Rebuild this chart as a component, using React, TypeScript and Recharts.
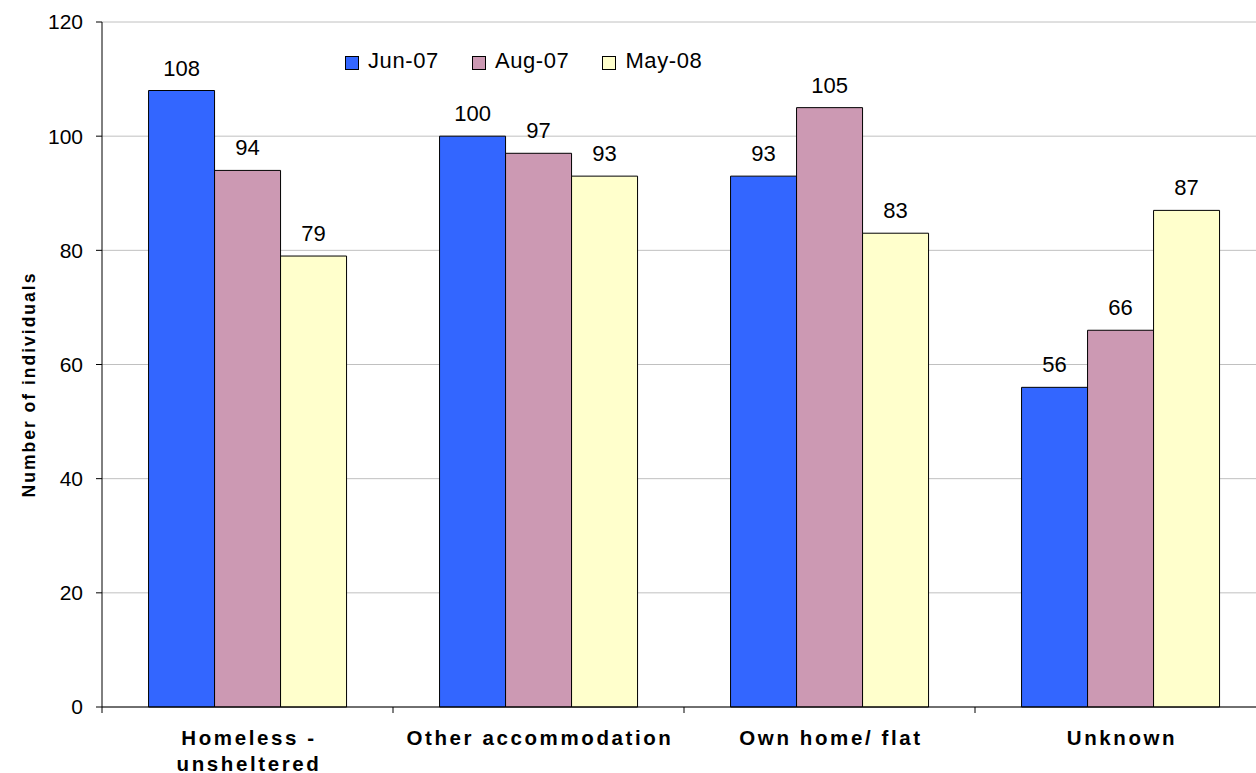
import React from "react";
import {
  BarChart, Bar, XAxis, YAxis, CartesianGrid, Legend, LabelList,
} from "recharts";

const categories = ["Homeless - unsheltered", "Other accommodation", "Own home/ flat", "Unknown"];
const jun07 = [108, 100, 93, 56];
const aug07 = [94, 97, 105, 66];
const may08 = [79, 93, 83, 87];
const yTicks = [0, 20, 40, 60, 80, 100, 120];

const seriesDefs = [
  { key: "jun07", label: "Jun-07", fill: "#3366FF" },
  { key: "aug07", label: "Aug-07", fill: "#CC99B3" },
  { key: "may08", label: "May-08", fill: "#FFFFCC" },
];

const data = categories.map((c, i) => ({
  name: c, jun07: jun07[i], aug07: aug07[i], may08: may08[i],
}));

const FONT = "'Liberation Sans', Arial, sans-serif";
const CHART_W = 1266;
const CHART_H = 773;
const Y_AXIS_W = 102;

// category label, plus a tick mark on the left boundary of each band
const CatTick = (props: any) => {
  const { x, y, payload } = props;
  const half = payload?.offset || (CHART_W - Y_AXIS_W) / categories.length / 2;
  const label: string = payload.value;
  const lines = label === "Homeless - unsheltered" ? ["Homeless -", "unsheltered"] : [label];
  return (
    <g>
      <line x1={x - half} x2={x - half} y1={y - 8} y2={y - 2} stroke="#000" strokeWidth={1} />
      {lines.map((ln, i) => (
        <text key={i} x={x + 1.5} y={y + 30 + i * 26} textAnchor="middle" fontSize={20.5}
          fontWeight="bold" fill="#000" fontFamily={FONT} letterSpacing={2.6}>{ln}</text>
      ))}
    </g>
  );
};

const LegendBox = () => (
  <div style={{ display: "flex", fontFamily: FONT, fontSize: 22, color: "#000", lineHeight: "22px" }}>
    {seriesDefs.map((s, i) => (
      <div key={s.key} style={{ display: "flex", alignItems: "center", marginRight: i < 2 ? 33 : 0 }}>
        <span style={{
          width: 12, height: 12, background: s.fill, border: "1px solid #000",
          display: "inline-block", marginRight: 9, position: "relative", top: 2,
        }} />
        <span style={{ letterSpacing: 0.6 }}>{s.label}</span>
      </div>
    ))}
  </div>
);

export default function App() {
  return (
    <div style={{ position: "fixed", left: 0, top: 0, width: 1256, height: 773, overflow: "hidden", background: "#fff" }}>
      <BarChart width={CHART_W} height={CHART_H} data={data}
        margin={{ top: 22, right: 0, bottom: 0, left: 0 }}
        barCategoryGap="16%" barGap={0}>
        <CartesianGrid vertical={false} stroke="#c0c0c0" />
        <XAxis dataKey="name" axisLine={{ stroke: "#000" }} tickLine={false}
          tick={<CatTick />} interval={0} height={66} />
        <YAxis domain={[0, 120]} ticks={yTicks} width={Y_AXIS_W}
          axisLine={{ stroke: "#000" }} tickLine={{ stroke: "#000" }} tickSize={6} tickMargin={13}
          tick={{ fontSize: 21, fill: "#000", fontFamily: FONT }}
          label={{
            content: (p: any) => {
              const vb = p.viewBox;
              const cx = 35;
              const cy = vb.y + vb.height / 2 + 20;
              return (
                <text x={cx} y={cy} transform={`rotate(-90 ${cx} ${cy})`} textAnchor="middle"
                  fontSize={17.5} fontWeight="bold" fill="#000" fontFamily={FONT} letterSpacing={2}>
                  Number of individuals
                </text>
              );
            },
          }} />
        <Legend layout="horizontal" verticalAlign="middle" align="center" content={<LegendBox />}
          wrapperStyle={{ top: 50, left: 345, width: "auto" }} />
        {seriesDefs.map((s) => (
          <Bar key={s.key} dataKey={s.key} name={s.label} fill={s.fill}
            stroke="#000" strokeWidth={1} isAnimationActive={false}>
            <LabelList dataKey={s.key} position="top" offset={15}
              style={{ fontSize: 22, fill: "#000", fontFamily: FONT }} />
          </Bar>
        ))}
      </BarChart>
    </div>
  );
}
